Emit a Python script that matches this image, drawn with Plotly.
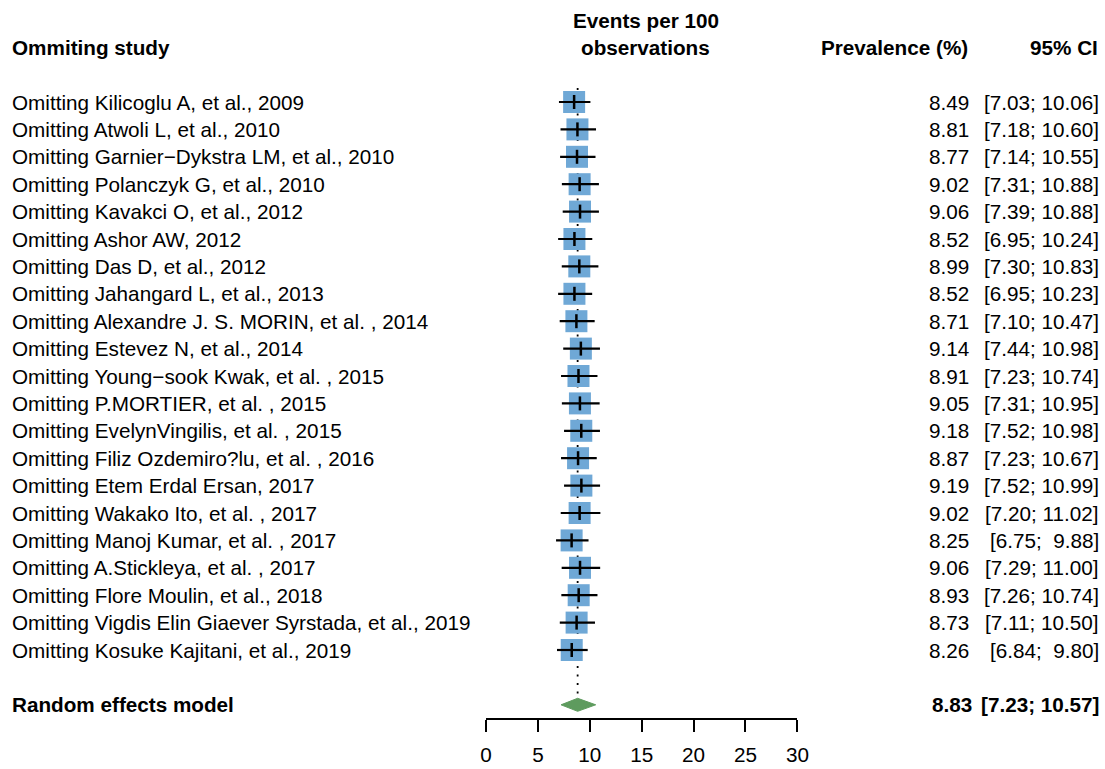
import plotly.graph_objects as go

studies = [
    "Omitting Kilicoglu A, et al., 2009",
    "Omitting Atwoli L, et al., 2010",
    "Omitting Garnier\u2212Dykstra LM, et al., 2010",
    "Omitting Polanczyk G, et al., 2010",
    "Omitting Kavakci O, et al., 2012",
    "Omitting Ashor AW, 2012",
    "Omitting Das D, et al., 2012",
    "Omitting Jahangard L, et al., 2013",
    "Omitting Alexandre J. S. MORIN, et al. , 2014",
    "Omitting Estevez N, et al., 2014",
    "Omitting Young\u2212sook Kwak, et al. , 2015",
    "Omitting P.MORTIER, et al. , 2015",
    "Omitting EvelynVingilis, et al. , 2015",
    "Omitting Filiz Ozdemiro?lu, et al. , 2016",
    "Omitting Etem Erdal Ersan, 2017",
    "Omitting Wakako Ito, et al. , 2017",
    "Omitting Manoj Kumar, et al. , 2017",
    "Omitting A.Stickleya, et al. , 2017",
    "Omitting Flore Moulin, et al., 2018",
    "Omitting Vigdis Elin Giaever Syrstada, et al., 2019",
    "Omitting Kosuke Kajitani, et al., 2019",
]
prevalence = [8.49, 8.81, 8.77, 9.02, 9.06, 8.52, 8.99, 8.52, 8.71, 9.14, 8.91,
              9.05, 9.18, 8.87, 9.19, 9.02, 8.25, 9.06, 8.93, 8.73, 8.26]
lower = [7.03, 7.18, 7.14, 7.31, 7.39, 6.95, 7.30, 6.95, 7.10, 7.44, 7.23,
         7.31, 7.52, 7.23, 7.52, 7.20, 6.75, 7.29, 7.26, 7.11, 6.84]
upper = [10.06, 10.60, 10.55, 10.88, 10.88, 10.24, 10.83, 10.23, 10.47, 10.98, 10.74,
         10.95, 10.98, 10.67, 10.99, 11.02, 9.88, 11.00, 10.74, 10.50, 9.80]
pooled_label = "Random effects model"
pooled = 8.83
pooled_lower = 7.23
pooled_upper = 10.57
tick_values = [0, 5, 10, 15, 20, 25, 30]

SX = 1.008  # horizontal compensation
W, H = round(1105 * SX), 769
ROW0, STEP = 102.0, 27.4
AXIS_PX = 718.0
FONT = "Liberation Sans, Arial, Helvetica, sans-serif"
FS = 20.7
TXT_PAD = 6  # annotation inner offset
n = len(studies)
pooled_row = n + 1


def prow(py):
    return (py - ROW0) / STEP


def pxl(x):
    return (x * SX - TXT_PAD) / W


def pxr(x):
    return (x * SX + TXT_PAD) / W


def pxc(x):
    return x * SX / W


def fmt_ci(lo, hi):
    s_lo = f"{lo:.2f}"
    s_hi = f"{hi:.2f}"
    if len(s_hi) < 5:
        s_hi = "\u00a0\u00a0" + s_hi
    else:
        s_hi = "\u00a0" + s_hi
    return f"[{s_lo};{s_hi}]"


rows = list(range(n))
fig = go.Figure()

# dotted reference line at pooled estimate
fig.add_trace(go.Scatter(
    x=[pooled, pooled], y=[prow(88), pooled_row - 0.25], mode="lines",
    line=dict(color="black", width=1.8, dash="2px,6.5px"), hoverinfo="skip", showlegend=False))

# squares
fig.add_trace(go.Scatter(
    x=prevalence, y=rows, mode="markers",
    marker=dict(symbol="square", size=22, color="#6FA8D6", line=dict(width=0)),
    hoverinfo="skip", showlegend=False))

# CI lines
ci_x, ci_y = [], []
for lo, hi, r in zip(lower, upper, rows):
    ci_x += [lo, hi, None]
    ci_y += [r, r, None]
fig.add_trace(go.Scatter(x=ci_x, y=ci_y, mode="lines", line=dict(color="black", width=2.2),
                         hoverinfo="skip", showlegend=False))

# point estimate ticks
fig.add_trace(go.Scatter(
    x=prevalence, y=rows, mode="markers",
    marker=dict(symbol="line-ns", size=10, line=dict(color="black", width=2.5)),
    hoverinfo="skip", showlegend=False))

# diamond
dh = 6.5 / STEP
fig.add_trace(go.Scatter(
    x=[pooled_lower, pooled, pooled_upper, pooled, pooled_lower],
    y=[pooled_row, pooled_row - dh, pooled_row, pooled_row + dh, pooled_row],
    mode="lines", fill="toself", fillcolor="#5E9B5E", line=dict(color="#5E9B5E", width=1),
    hoverinfo="skip", showlegend=False))

norm = dict(size=FS, color="black", family=FONT)
bold = dict(size=FS, color="black", family=FONT)
ann = []
for s, p, lo, hi, r in zip(studies, prevalence, lower, upper, rows):
    ann.append(dict(x=pxl(9.5), y=r, xref="paper", yref="y", text=s, xanchor="left",
                    yanchor="middle", showarrow=False, font=norm))
    ann.append(dict(x=pxr(967), y=r, xref="paper", yref="y", text=f"{p:.2f}", xanchor="right",
                    yanchor="middle", showarrow=False, font=norm))
    ann.append(dict(x=pxr(1098), y=r, xref="paper", yref="y", text=fmt_ci(lo, hi), xanchor="right",
                    yanchor="middle", showarrow=False, font=norm))

ann.append(dict(x=pxl(9.5), y=pooled_row, xref="paper", yref="y", text=f"<b>{pooled_label}</b>",
                xanchor="left", yanchor="middle", showarrow=False, font=bold))
ann.append(dict(x=pxr(970), y=pooled_row, xref="paper", yref="y", text=f"<b>{pooled:.2f}</b>",
                xanchor="right", yanchor="middle", showarrow=False, font=bold))
ann.append(dict(x=pxr(1098), y=pooled_row, xref="paper", yref="y",
                text=f"<b>{fmt_ci(pooled_lower, pooled_upper)}</b>",
                xanchor="right", yanchor="middle", showarrow=False, font=bold))

# headers
ann.append(dict(x=pxl(9.5), y=prow(47), xref="paper", yref="y", text="<b>Ommiting study</b>",
                xanchor="left", yanchor="middle", showarrow=False, font=bold))
ann.append(dict(x=pxc(645), y=prow(20), xref="paper", yref="y", text="<b>Events per 100</b>",
                xanchor="center", yanchor="middle", showarrow=False, font=bold))
ann.append(dict(x=pxc(645), y=prow(47), xref="paper", yref="y", text="<b>observations</b>",
                xanchor="center", yanchor="middle", showarrow=False, font=bold))
ann.append(dict(x=pxr(966), y=prow(47), xref="paper", yref="y", text="<b>Prevalence (%)</b>",
                xanchor="right", yanchor="middle", showarrow=False, font=bold))
ann.append(dict(x=pxr(1097), y=prow(47), xref="paper", yref="y", text="<b>95% CI</b>",
                xanchor="right", yanchor="middle", showarrow=False, font=bold))

fig.update_layout(
    width=W, height=H, margin=dict(l=0, r=0, t=0, b=0),
    paper_bgcolor="white", plot_bgcolor="white",
    annotations=ann,
    xaxis=dict(domain=[484 * SX / W, 798 * SX / W], range=[0, 30], tickvals=tick_values,
               showgrid=False, zeroline=False, showline=True, linecolor="black", linewidth=1.5,
               ticks="outside", ticklen=12, tickwidth=1.5, tickcolor="black",
               tickfont=dict(size=FS, color="black", family=FONT), ticklabelstandoff=5),
    yaxis=dict(domain=[(H - AXIS_PX) / H, 1],
               range=[prow(AXIS_PX), prow(0)], visible=False),
)

fig.write_html(
    "out.html",
    config={"displayModeBar": False},
    post_script="document.body.style.margin='0';"
                "document.documentElement.style.overflow='hidden';",
)
